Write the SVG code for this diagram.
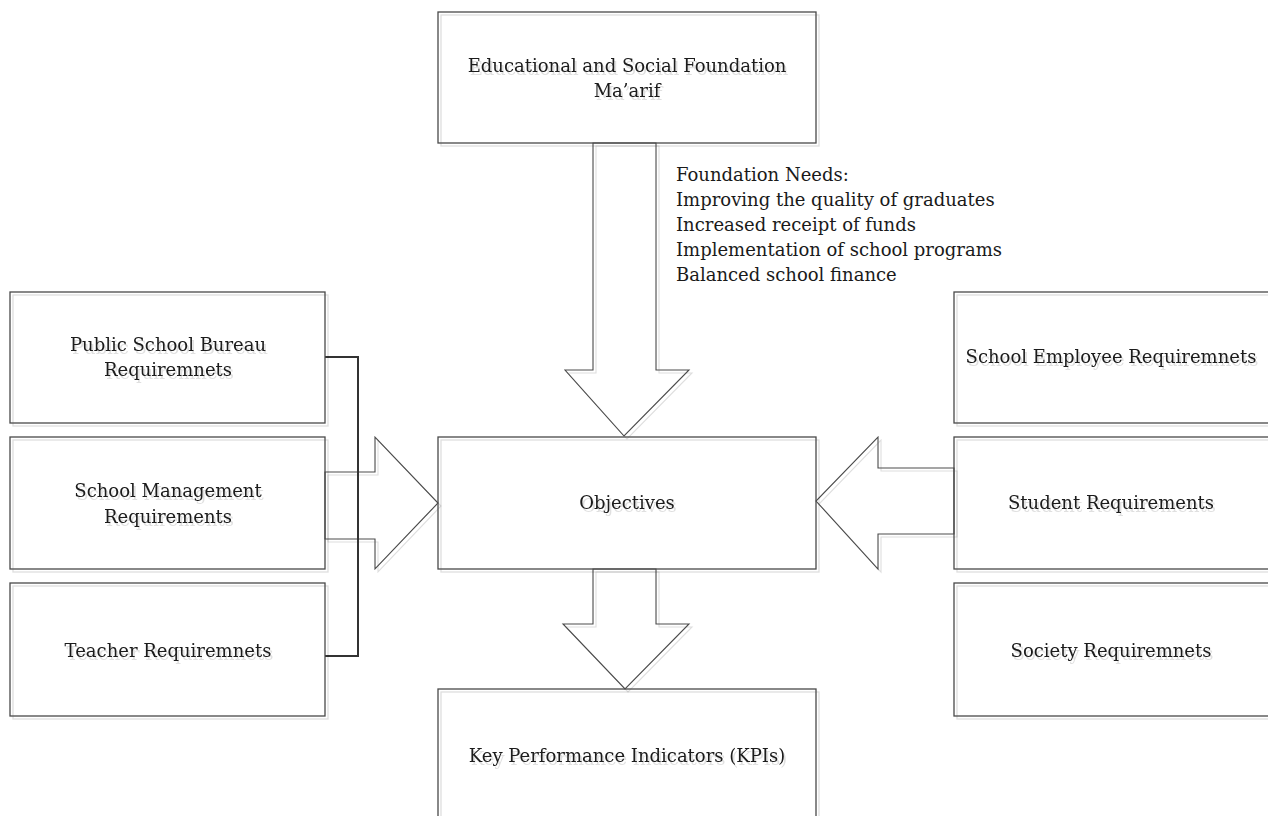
<svg xmlns="http://www.w3.org/2000/svg" width="1268" height="816" viewBox="0 0 1268 816">
<defs>
<filter id="sh" x="-5%" y="-5%" width="115%" height="115%">
<feDropShadow dx="3" dy="3" stdDeviation="0.4" flood-color="#000" flood-opacity="0.13"/>
</filter>
<filter id="tsh" x="-5%" y="-20%" width="115%" height="150%">
<feDropShadow dx="2" dy="3" stdDeviation="0.4" flood-color="#000" flood-opacity="0.12"/>
</filter>
</defs>
<style>
.box{fill:none;stroke:#4a4a4a;stroke-width:1.3;filter:url(#sh)}
.arr{fill:none;stroke:#4a4a4a;stroke-width:1.1;stroke-linejoin:miter;filter:url(#sh)}
.brk{fill:none;stroke:#333;stroke-width:2}
.t{font-family:"DejaVu Serif","Liberation Serif",serif;font-size:18px;fill:#1a1a1a;text-anchor:middle;filter:url(#tsh)}
.n{font-family:"DejaVu Serif","Liberation Serif",serif;font-size:18px;fill:#1a1a1a}
</style>
<rect width="1268" height="816" fill="#fff"/>
<g id="connectors">
<polygon class="arr" points="593,143 656,143 656,370 689,370 624,436 565,370 593,370"/>
<polygon class="arr" points="325,472 375,472 375,437 438,503 375,569 375,539 325,539"/>
<polygon class="arr" points="954,468 878,468 878,437 816,501 878,569 878,534 954,534"/>
<polygon class="arr" points="593,569 656,569 656,624 689,624 625,689 563,624 593,624"/>
<polyline class="brk" points="325,357 358,357 358,656 325,656"/>
</g>
<g id="foundation-needs">
<text class="n" x="676" y="181">Foundation Needs:</text>
<text class="n" x="676" y="206">Improving the quality of graduates</text>
<text class="n" x="676" y="231">Increased receipt of funds</text>
<text class="n" x="676" y="256">Implementation of school programs</text>
<text class="n" x="676" y="281">Balanced school finance</text>
</g>
<g id="foundation">
<rect class="box" x="438" y="12" width="378" height="131"/>
<text class="t" x="627" y="72">Educational and Social Foundation</text>
<text class="t" x="627" y="97">Ma’arif</text>
</g>
<g id="public-school-bureau">
<rect class="box" x="10" y="292" width="315" height="131"/>
<text class="t" x="168" y="351">Public School Bureau</text>
<text class="t" x="168" y="376">Requiremnets</text>
</g>
<g id="school-management">
<rect class="box" x="10" y="437" width="315" height="132"/>
<text class="t" x="168" y="497">School Management</text>
<text class="t" x="168" y="523">Requirements</text>
</g>
<g id="teacher">
<rect class="box" x="10" y="583" width="315" height="133"/>
<text class="t" x="168" y="657">Teacher Requiremnets</text>
</g>
<g id="objectives">
<rect class="box" x="438" y="437" width="378" height="132"/>
<text class="t" x="627" y="509">Objectives</text>
</g>
<g id="school-employee">
<rect class="box" x="954" y="292" width="320" height="131"/>
<text class="t" x="1111" y="363">School Employee Requiremnets</text>
</g>
<g id="student">
<rect class="box" x="954" y="437" width="320" height="132"/>
<text class="t" x="1111" y="509">Student Requirements</text>
</g>
<g id="society">
<rect class="box" x="954" y="583" width="320" height="133"/>
<text class="t" x="1111" y="657">Society Requiremnets</text>
</g>
<g id="kpis">
<rect class="box" x="438" y="689" width="378" height="131"/>
<text class="t" x="627" y="762">Key Performance Indicators (KPIs)</text>
</g>
</svg>
